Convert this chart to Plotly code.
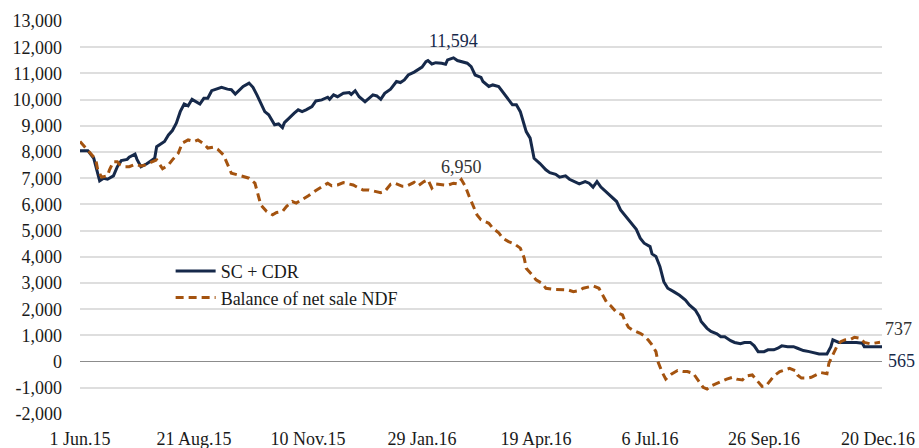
import plotly.graph_objects as go

# trading-day index (0 = 1 Jun.15) and values
sc_day = [0,4,7,10,12,14,17,19,21,24,25,28,29,31,34,36,38,39,41,43,45,47,49,51,53,55,57,59,61,63,65,67,70,72,75,77,79,81,83,86,88,90,92,94,96,98,99,101,103,104,107,109,111,113,115,118,120,123,126,127,129,131,134,137,138,140,142,145,147,149,151,153,155,158,161,163,165,167,170,172,174,176,177,179,181,184,186,187,190,192,194,197,199,201,204,205,208,210,213,215,218,220,222,224,226,227,229,230,231,234,237,239,242,244,247,249,252,254,257,259,261,263,265,268,270,273,275,277,279,281,283,285,287,290,291,293,295,297,299,302,305,308,310,313,315,316,319,321,324,326,328,331,333,336,338,341,343,345,348,350,353,355,357,360,363,365,368,371,374,376,380,382,383,386,388,392,395,398,399,403,408]
sc_cdr = [8050,8050,7760,6900,7000,6960,7090,7440,7670,7720,7800,7920,7720,7440,7550,7670,7760,8200,8310,8400,8650,8820,9100,9540,9830,9760,10010,9920,9830,10050,10050,10340,10430,10470,10400,10380,10210,10350,10500,10630,10470,10180,9860,9540,9420,9160,9040,9070,8930,9120,9350,9480,9610,9540,9610,9730,9950,9990,10090,10010,10180,10110,10240,10270,10200,10340,10110,9920,10050,10180,10140,10010,10240,10400,10690,10650,10750,10940,11050,11130,11240,11450,11490,11360,11410,11390,11350,11515,11594,11490,11450,11390,11260,10940,10850,10690,10500,10560,10500,10300,10000,9800,9800,9540,9030,8780,8530,8080,7760,7560,7320,7210,7150,7040,7090,6960,6870,6780,6870,6810,6660,6870,6660,6450,6300,6110,5790,5600,5410,5260,5050,4710,4520,4390,4110,4010,3630,3050,2800,2670,2530,2350,2160,1970,1720,1530,1270,1150,1060,950,950,800,730,680,730,730,600,380,380,450,450,510,600,570,570,510,420,380,320,290,290,570,830,730,730,730,730,700,565,565,565]

ndf_day = [0,3,5,8,9,11,14,15,17,19,20,23,25,28,31,33,36,39,42,45,47,50,52,55,58,60,63,65,68,70,73,75,77,80,83,86,89,91,92,95,98,100,103,105,108,110,113,116,120,123,126,128,131,134,137,139,142,144,147,149,153,155,158,160,164,166,170,172,175,177,179,181,185,187,190,192,194,196,198,200,202,204,208,210,213,215,218,221,224,226,227,230,232,235,237,241,244,248,251,254,256,259,261,264,266,268,270,273,276,277,279,281,285,287,289,291,293,294,296,298,301,304,307,309,312,315,317,319,321,324,326,329,332,334,337,339,342,344,347,349,351,353,356,359,361,364,365,367,370,372,375,377,380,381,383,385,387,389,392,394,397,399,402,404,407]
ndf_balance = [8400,8150,7950,7720,7320,7040,7090,7320,7630,7630,7530,7440,7440,7530,7470,7500,7600,7700,7360,7510,7700,7950,8340,8460,8400,8460,8310,8150,8190,8110,7890,7570,7190,7130,7060,7000,6810,6300,5980,5730,5600,5690,5730,5920,6110,6050,6170,6320,6530,6680,6810,6710,6740,6830,6780,6740,6620,6550,6550,6520,6450,6490,6770,6820,6690,6690,6840,6710,6870,6940,6620,6780,6740,6730,6810,6780,6950,6690,6300,5920,5600,5410,5280,5090,4920,4710,4580,4490,4330,3950,3560,3310,3120,2990,2800,2760,2760,2740,2670,2710,2800,2860,2890,2800,2550,2250,2130,1870,1780,1590,1310,1210,1080,980,830,640,380,0,-380,-670,-470,-340,-380,-380,-450,-780,-980,-1050,-930,-830,-760,-670,-600,-670,-700,-550,-510,-700,-950,-930,-760,-550,-380,-290,-260,-350,-510,-630,-630,-600,-510,-420,-460,-60,260,570,760,830,850,930,890,730,680,700,737]

# labelled points
sc_label_day = 190
ndf_label_day = 194

x_tick_days = [0, 58, 116, 174, 232, 290, 348, 406]
x_tick_labels = ["1 Jun.15", "21 Aug.15", "10 Nov.15", "29 Jan.16", "19 Apr.16", "6 Jul.16", "26 Sep.16", "20 Dec.16"]
y_ticks = list(range(-2000, 14000, 1000))
y_tick_labels = [f"{v:,}" for v in y_ticks]

NAVY = "#16294a"
BROWN = "#a4530f"
FONT = "Liberation Serif"
TXT = "#1a1a1a"

fig = go.Figure()
fig.add_trace(go.Scatter(x=sc_day, y=sc_cdr, mode="lines", name="SC + CDR",
                         line=dict(color=NAVY, width=3)))
fig.add_trace(go.Scatter(x=ndf_day, y=ndf_balance, mode="lines", name="Balance of net sale NDF",
                         line=dict(color=BROWN, width=3, dash="8px,5px")))

sv = sc_cdr[sc_day.index(sc_label_day)]
nv = ndf_balance[ndf_day.index(ndf_label_day)]
ann = [
    dict(x=sc_label_day, y=sv, text=f"{sv:,}", showarrow=False,
         yshift=17, font=dict(color=NAVY)),
    dict(x=ndf_label_day, y=nv, text=f"{nv:,}", showarrow=False,
         yshift=13, font=dict(color="#333333")),
    dict(x=ndf_day[-1], y=ndf_balance[-1], text=f"{ndf_balance[-1]:,}", showarrow=False,
         xanchor="left", xshift=3, yshift=13, font=dict(color="#333333")),
    dict(x=sc_day[-1], y=sc_cdr[-1], text=f"{sc_cdr[-1]:,}", showarrow=False,
         xanchor="left", xshift=4, yshift=-14, font=dict(color=NAVY)),
]

fig.update_layout(
    width=919, height=448,
    margin=dict(l=80, r=37, t=21, b=34),
    paper_bgcolor="white", plot_bgcolor="white",
    font=dict(family=FONT, size=18, color=TXT),
    showlegend=True,
    legend=dict(x=0.113, y=0.41, xanchor="left", yanchor="top",
                bgcolor="rgba(0,0,0,0)", font=dict(size=18, color=TXT),
                itemwidth=40, tracegroupgap=0),
    annotations=ann,
)
fig.update_xaxes(range=[0, 408], tickmode="array", tickvals=x_tick_days, ticktext=x_tick_labels,
                 showgrid=False, zeroline=False, showline=False, ticks="",
                 ticklabelstandoff=12, automargin=False)
fig.update_yaxes(range=[-2000, 13000], tickmode="array", tickvals=y_ticks, ticktext=y_tick_labels,
                 showgrid=True, gridcolor="#dedede", gridwidth=1.5,
                 zeroline=True, zerolinecolor="#8c8c8c", zerolinewidth=1.2,
                 showline=False, ticks="", ticklabelstandoff=17, automargin=False)

fig.write_html("out.html", config={"displayModeBar": False},
               post_script="document.body.style.margin='0';")
